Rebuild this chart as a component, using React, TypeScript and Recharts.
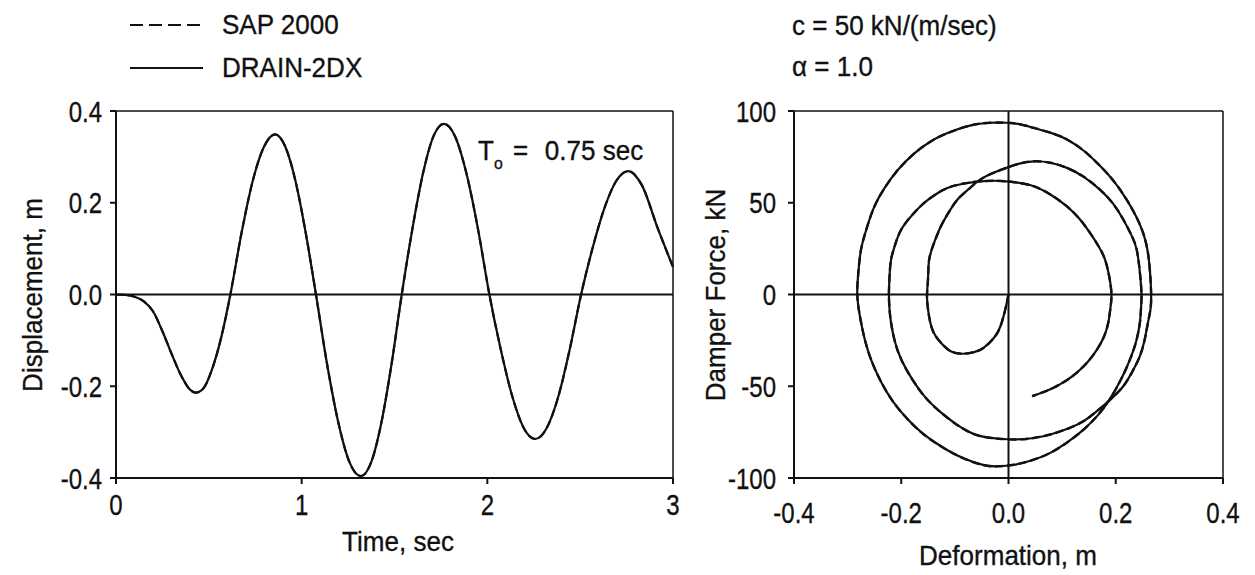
import React from 'react';
import { LineChart, Line, XAxis, YAxis, ReferenceLine } from 'recharts';

const FONT = "'Liberation Sans', Arial, sans-serif";
const TICK_SQUEEZE = 0.8;  // tick numbers are tall and narrow in the original
const TEXT_SQUEEZE = 0.93; // titles / legend are a little wider
const INK = '#111';

// displacement time history
const timeSec = [
  0, 0.05, 0.1, 0.15, 0.2, 0.25, 0.3, 0.35, 0.4, 0.43, 0.47, 0.52, 0.57, 0.616,
  0.676, 0.736, 0.797, 0.857, 0.912, 0.967, 1.022, 1.077, 1.137, 1.198, 1.258, 1.319,
  1.374, 1.429, 1.484, 1.539, 1.596, 1.653, 1.709, 1.766, 1.827, 1.888, 1.95, 2.011,
  2.073, 2.135, 2.196, 2.258, 2.32, 2.382, 2.443, 2.505, 2.568, 2.632, 2.695, 2.759,
  2.83, 2.92, 3.0,
];
const dispDrain = [
  0, -0.001, -0.005, -0.015, -0.037, -0.08, -0.13, -0.176, -0.208, -0.214, -0.205, -0.16, -0.088, 0,
  0.134, 0.247, 0.322, 0.349, 0.322, 0.247, 0.134, 0, -0.152, -0.28, -0.366, -0.396,
  -0.366, -0.28, -0.152, 0, 0.142, 0.263, 0.344, 0.372, 0.344, 0.263, 0.142, 0,
  -0.121, -0.223, -0.291, -0.315, -0.291, -0.223, -0.121, 0, 0.103, 0.19, 0.248, 0.269,
  0.24, 0.142, 0.06,
];
// SAP 2000 lies on top of DRAIN-2DX at plot resolution
const dispSap = dispDrain;

// damper hysteresis (in time order)
const defDrain = [
  0, -0.006, -0.015, -0.027, -0.046, -0.064, -0.086, -0.108, -0.126, -0.142, -0.15, -0.152,
  -0.15, -0.148, -0.139, -0.126, -0.111, -0.095, -0.074, -0.052, -0.028, -0.004, 0.02, 0.047,
  0.078, 0.109, 0.141, 0.171, 0.195, 0.214, 0.229, 0.239, 0.245, 0.248,
  0.247, 0.245, 0.239, 0.229, 0.212, 0.189, 0.166, 0.14, 0.11, 0.078, 0.044, 0.01, -0.02,
  -0.046, -0.086, -0.126, -0.159, -0.188, -0.215, -0.237, -0.255, -0.268, -0.277, -0.282,
  -0.28, -0.275, -0.264, -0.25, -0.23, -0.206, -0.175, -0.139, -0.1, -0.064, -0.034, -0.004,
  0.022, 0.047, 0.078, 0.109, 0.141, 0.171, 0.197, 0.22, 0.238, 0.251, 0.259, 0.263, 0.265, 0.266,
  0.265, 0.26, 0.254, 0.245, 0.231, 0.214, 0.189, 0.165, 0.14, 0.11, 0.078, 0.047, 0.016,
  -0.018, -0.052, -0.078, -0.101, -0.13, -0.157, -0.18, -0.2, -0.212, -0.219, -0.222, -0.223,
  -0.222, -0.219, -0.211, -0.2, -0.18, -0.157, -0.136, -0.114, -0.083, -0.052, -0.028, -0.004,
  0.02, 0.047, 0.078, 0.109, 0.133, 0.152, 0.168, 0.18, 0.188, 0.192,
  0.19, 0.186, 0.178, 0.165, 0.148, 0.127, 0.106, 0.084, 0.064, 0.044,
];
const forceDrain = [
  0, -8.2, -17.3, -23.6, -29, -31.4, -32.3, -30.9, -26.3, -19.1, -8.2, 0,
  9, 19, 28, 37.2, 45, 51.8, 57.5, 62.7, 66.3, 69, 71.3, 72.6,
  71.8, 69, 64, 57, 49.5, 40.9, 32.5, 24.5, 12, 0,
  -8, -15.4, -24.5, -33.6, -45, -57, -66, -73.6, -80.5, -86.3, -90.3, -92.8, -93.6,
  -93, -89, -82.7, -76, -68, -58.5, -48, -36.5, -24.5, -12, 0,
  12, 24.5, 36.5, 48, 58.5, 68, 77, 84.5, 89.5, 92.6, 93.6, 93.6,
  92.7, 90.8, 88.2, 84.5, 78.2, 70, 61.5, 51.8, 42.5, 33.6, 24.5, 15.4, 7.5, 0,
  -7.5, -15.4, -24.5, -33.6, -42, -50, -57.5, -63.5, -69, -73.2, -76.3, -78.2, -79,
  -78.6, -77.2, -74.2, -70, -63.3, -55.4, -46, -35.4, -25.5, -15.4, -7.5, 0,
  9, 19, 27.5, 35.4, 43.2, 50, 54.5, 58, 60.5, 61.7, 62, 61.7,
  60.8, 59, 54.5, 48, 41, 33.6, 26.3, 19, 9.5, 0,
  -7.5, -15.4, -23, -30, -36.6, -42.7, -47.2, -50.8, -53.3, -55.4,
];
const forceSap = forceDrain;

const timeTicks = [0, 1, 2, 3];
const dispTicks = [-0.4, -0.2, 0, 0.2, 0.4];
const defTicks = [-0.4, -0.2, 0, 0.2, 0.4];
const forceTicks = [-100, -50, 0, 50, 100];
const forceMinorTicks = [-75, -25, 25, 75];

const timeData = timeSec.map((t, i) => ({ t, drain: dispDrain[i], sap: dispSap[i] }));
const loopData = defDrain.map((d, i) => ({ d, drain: forceDrain[i], sap: forceSap[i] }));

const axisLine = { stroke: INK, strokeWidth: 2 };
const tickLine = { stroke: INK, strokeWidth: 2 };

const fixed1 = (v: number) => v.toFixed(1);
const plain = (v: number) => String(v);

function NarrowTick(props: any) {
  const { x, y, payload, textAnchor, fmt, vertical } = props;
  return (
    <text transform={`translate(${x},${y}) scale(${TICK_SQUEEZE},1)`} textAnchor={textAnchor}
      dy={vertical ? '0.355em' : '0.71em'} fill={INK} stroke={INK} strokeWidth={0.35}
      fontSize={30} fontFamily={FONT}>
      {fmt(payload.value)}
    </text>
  );
}

function NText({ x, y, anchor = 'start', rotate = 0, children }: any) {
  return (
    <text transform={`translate(${x},${y}) rotate(${rotate}) scale(${TEXT_SQUEEZE},1)`} textAnchor={anchor}
      dominantBaseline="central" fill={INK} stroke={INK} strokeWidth={0.35} fontSize={28} fontFamily={FONT}>
      {children}
    </text>
  );
}

function TimePanel() {
  return (
    <LineChart width={700} height={575} data={timeData}
      margin={{ top: 111, right: 27, bottom: 67, left: 56 }}>
      <XAxis type="number" dataKey="t" domain={[0, 3]} ticks={timeTicks} interval={0}
        tick={(p: any) => <NarrowTick {...p} fmt={plain} />}
        axisLine={axisLine} tickLine={tickLine} tickSize={6} tickMargin={10} height={30} />
      <YAxis type="number" domain={[-0.4, 0.4]} ticks={dispTicks} interval={0} width={60}
        tick={(p: any) => <NarrowTick {...p} fmt={fixed1} vertical />}
        axisLine={axisLine} tickLine={tickLine} tickSize={6} tickMargin={8} />
      <ReferenceLine y={0.4} stroke={INK} strokeWidth={1.5} />
      <ReferenceLine x={3} stroke={INK} strokeWidth={1.5} />
      <ReferenceLine y={0} stroke={INK} strokeWidth={2} />
      <Line type="monotone" dataKey="drain" stroke={INK} strokeWidth={2.2} dot={false} isAnimationActive={false} />
      <Line type="monotone" dataKey="sap" stroke={INK} strokeWidth={2.2} strokeDasharray="8 4" dot={false} isAnimationActive={false} />
    </LineChart>
  );
}

function LoopPanel() {
  return (
    <LineChart width={575} height={575} data={loopData}
      margin={{ top: 111, right: 32, bottom: 67, left: 54 }}>
      <XAxis type="number" dataKey="d" domain={[-0.4, 0.4]} ticks={defTicks} interval={0}
        tick={(p: any) => <NarrowTick {...p} fmt={fixed1} />}
        axisLine={axisLine} tickLine={tickLine} tickSize={6} tickMargin={18} height={30} />
      <YAxis type="number" domain={[-100, 100]} ticks={forceTicks} interval={0} width={60}
        tick={(p: any) => <NarrowTick {...p} fmt={plain} vertical />}
        axisLine={axisLine} tickLine={tickLine} tickSize={6} tickMargin={12} />
      <YAxis yAxisId="frame" orientation="right" type="number" domain={[-100, 100]} ticks={forceMinorTicks}
        width={0} mirror tick={false} axisLine={{ stroke: INK, strokeWidth: 1.5 }}
        tickLine={{ stroke: INK, strokeWidth: 1.5 }} tickSize={6} />
      <ReferenceLine y={100} stroke={INK} strokeWidth={1.5} />
      <ReferenceLine x={0.4} stroke={INK} strokeWidth={1.5} />
      <ReferenceLine y={0} stroke={INK} strokeWidth={2} />
      <ReferenceLine x={0} stroke={INK} strokeWidth={2} />
      <Line type="natural" dataKey="drain" stroke={INK} strokeWidth={2.2} dot={false} isAnimationActive={false} />
      <Line type="natural" dataKey="sap" stroke={INK} strokeWidth={2.4} strokeDasharray="8 4" dot={false} isAnimationActive={false} />
    </LineChart>
  );
}

export default function App() {
  return (
    <div style={{ position: 'fixed', left: 0, top: 0, width: 1255, height: 575, background: '#fff' }}>
      <div style={{ position: 'absolute', left: 0, top: 0 }}><TimePanel /></div>
      <div style={{ position: 'absolute', left: 680, top: 0 }}><LoopPanel /></div>
      <svg width={1255} height={575} style={{ position: 'absolute', left: 0, top: 0, pointerEvents: 'none' }}>
        <line x1={130} x2={203} y1={25} y2={25} stroke={INK} strokeWidth={2} strokeDasharray="13 6" />
        <NText x={222} y={25}>SAP 2000</NText>
        <line x1={130} x2={203} y1={68} y2={68} stroke={INK} strokeWidth={2} />
        <NText x={222} y={68}>DRAIN-2DX</NText>

        <NText x={792} y={26}>c = 50 kN/(m/sec)</NText>
        <NText x={792} y={67}>α = 1.0</NText>

        <text transform={`translate(478,160) scale(${TEXT_SQUEEZE},1)`} fill={INK} stroke={INK} strokeWidth={0.35}
          fontSize={28} fontFamily={FONT}>
          T<tspan fontSize={17} dy={9}>o</tspan><tspan dy={-9} dx={11}>=</tspan><tspan dx={18}>0.75 sec</tspan>
        </text>

        <NText x={33} y={295} anchor="middle" rotate={-90}>Displacement, m</NText>
        <NText x={716} y={295} anchor="middle" rotate={-90}>Damper Force, kN</NText>
        <NText x={398} y={542} anchor="middle">Time, sec</NText>
        <NText x={1008} y={556} anchor="middle">Deformation, m</NText>
      </svg>
    </div>
  );
}
